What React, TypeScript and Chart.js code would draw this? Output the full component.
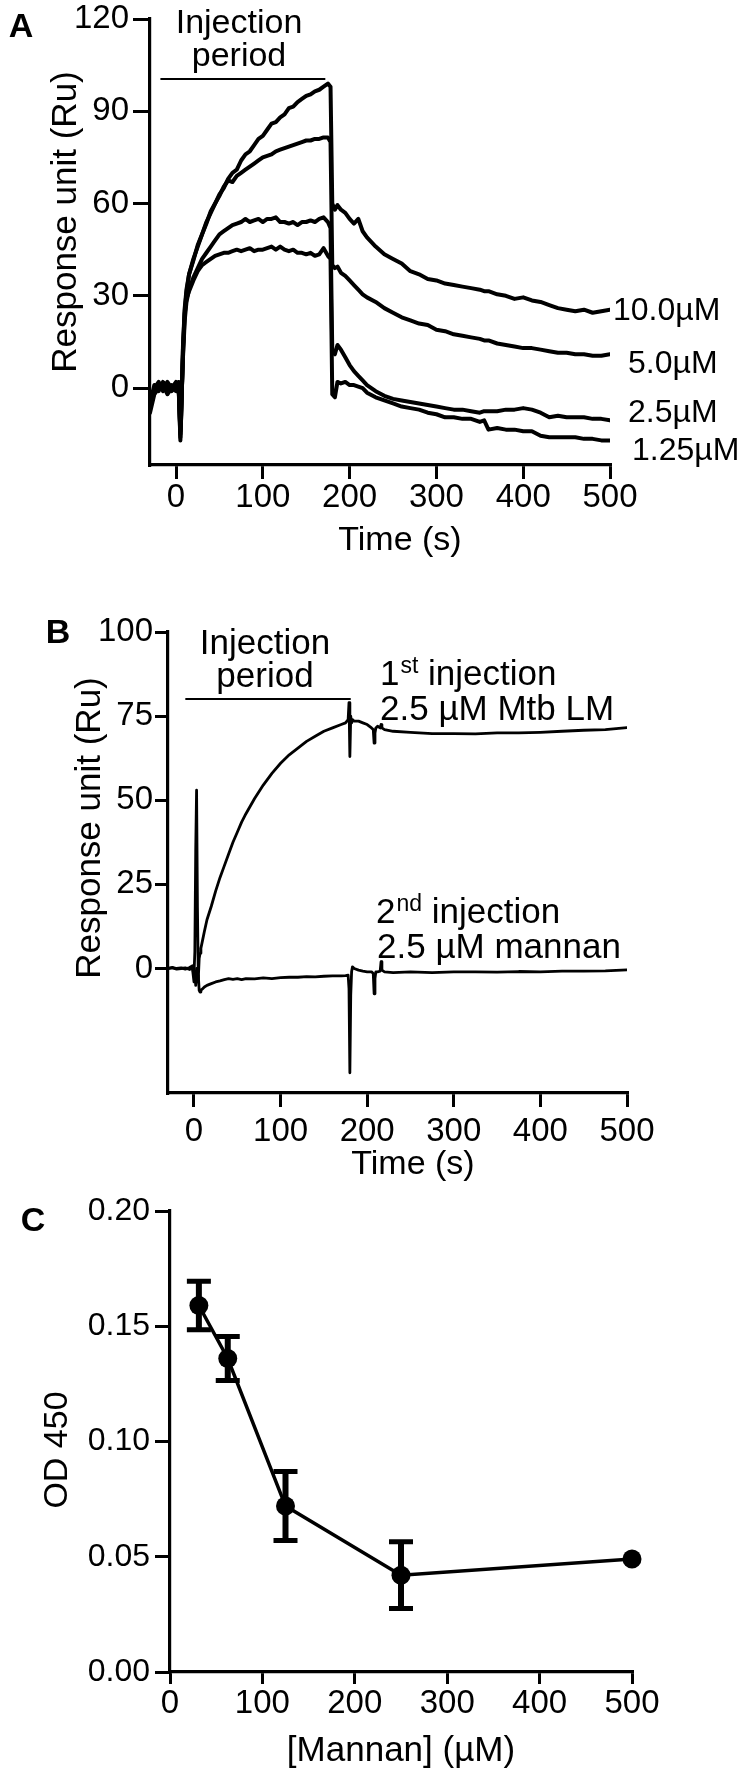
import React, { useEffect, useRef } from "react";
import { Chart, registerables } from "chart.js";

Chart.register(...registerables);

const FONT = '"Liberation Sans", Arial, Helvetica, sans-serif';
const MU = "\u00b5";

// ---------------- Panel A : SPR sensorgrams, four concentrations ----------------
const timeA = [
  -30, -25, -20, -15, -10, -5, 0, 3, 5, 6, 8, 10, 12, 15, 20, 25, 30, 35, 40, 45, 50, 55, 60, 65, 70, 75, 80, 85, 90,
  95, 100, 105, 110, 115, 120, 125, 130, 135, 140, 145, 150, 155, 160, 165, 170, 175, 178, 180, 183, 186, 190, 195,
  200, 205, 210, 215, 220, 230, 240, 250, 260, 270, 280, 290, 300, 310, 320, 330, 340, 350, 355, 360, 370, 380, 390,
  400, 410, 420, 430, 440, 450, 460, 470, 480, 490, 500,
];
const resp10uM = [
  -7, -1, 1, 0, 2, 0, 2, 1, -17, -8, 14, 26, 32, 37, 42, 46, 50, 54, 57, 60, 63, 65, 68, 70, 71, 74, 76, 77, 79, 81,
  82, 84, 86, 86.5, 88, 89, 91, 91.5, 93, 94, 95, 95.5, 96.5, 97, 98, 99, 98, 60, 58, 59.5, 58, 57, 55, 53.5, 55, 51,
  49, 46, 43.5, 42, 40.5, 38, 37, 35.5, 35, 34, 33.5, 33, 32.5, 32, 31.5, 31.5, 30.5, 30, 29, 29.5, 28.5, 28, 27, 26,
  25.5, 25, 25.5, 24.5, 25, 25.5,
];
const resp5uM = [
  -5, 1, -1, 2, -1, 1, 0, 2, -15, -9, 13, 25, 31, 37, 41.5, 46.5, 50, 53.5, 57.5, 60, 62.5, 65.5, 67.5, 67, 69, 70,
  71, 72, 73, 74, 75, 75.5, 76, 77, 77.5, 78, 78.5, 79, 79.5, 80, 80.5, 80.5, 81, 81, 81.5, 81.5, 80, 40, 39, 39.5,
  37.5, 36.5, 35, 33.5, 32, 30.5, 29.5, 28, 26, 24.5, 23, 22, 21, 20.5, 19, 18.5, 17.5, 17, 16.5, 16, 15.5, 15.5,
  14.5, 14, 13.5, 13, 13, 12.5, 12, 11.5, 11.5, 11, 11, 10.5, 10.5, 11,
];
const resp2_5uM = [
  -6, 0, 2, -1, 1, -1, 1, 0, -14, -6, 10, 22, 28, 32, 36, 39, 42, 44, 46, 48, 50, 51, 52, 53, 53.5, 54, 55, 54, 54.5,
  55, 54, 55, 55, 55.5, 54, 54, 53.5, 54, 53, 54, 54, 54.5, 54, 55, 55.5, 54, 52, 12, 11, 14, 12.5, 10, 7.5, 5.5, 4,
  2.5, 1, -1, -2.5, -3.5, -4, -4.5, -5, -5.5, -6, -6.5, -7, -7, -7.5, -8, -7.5, -7.5, -7.5, -7, -7, -6.5, -7, -8,
  -9.5, -9, -9.5, -9.5, -9.5, -10, -10, -10.5,
];
const resp1_25uM = [
  -8, -2, 0, 1, -2, 0, -1, 0, -16, -7, 11, 24, 29, 31.5, 35, 38, 40, 41, 42, 43, 43.5, 44, 44, 44.5, 45, 44.5, 45,
  45.5, 44.5, 45, 45, 45.5, 46, 45, 46, 45, 44.5, 45, 44, 44, 43.5, 44, 43, 43.5, 45.5, 43, 42, -2, -3, 2, 1.5, 2, 1,
  1, 0.5, 0, -1.5, -3, -4, -5, -6, -6.5, -7, -8, -8.5, -9.5, -9.5, -10, -10, -11, -10.5, -13.5, -13, -13.5, -13.5,
  -14, -14, -15.5, -16, -16, -16, -16, -16.5, -16.5, -17, -17,
];
const concLabelsA = ["10.0" + MU + "M", "5.0" + MU + "M", "2.5" + MU + "M", "1.25" + MU + "M"];
const xTicksA = [0, 100, 200, 300, 400, 500];
const yTicksA = [0, 30, 60, 90, 120];
const injectionA = [-18, 172]; // seconds covered by the "Injection period" bar

// ---------------- Panel B : two successive injections ----------------
const timeB = [
  -30, -25, -20, -15, -10, -5, -2, 0, 1, 2, 3, 4, 5, 6, 7, 8, 10, 12, 15, 20, 25, 30, 35, 40, 45, 50, 55, 60, 70, 80,
  90, 100, 110, 120, 130, 140, 150, 160, 170, 175, 178, 179, 180, 181, 182, 183, 185, 190, 195, 200, 205, 207, 208,
  209, 210, 212, 215, 216, 217, 220, 230, 250, 275, 300, 325, 350, 375, 400, 425, 450, 475, 500,
];
const firstInjectionLM = [
  0, 0.3, 0, 0.2, -0.2, 0.3, 0.8, -2, 5, 35, 53, 18, -3, 3, 4.5, 6, 8.5, 11, 14.5, 18.5, 23, 27, 30.5, 34, 37.5,
  40.5, 43.5, 46, 50.5, 54.5, 58, 61, 63.5, 65.5, 67.5, 69, 70.5, 71.5, 72.5, 73, 74, 79, 63, 75, 73, 74, 73.5, 73.5,
  73, 72.5, 71.5, 71, 67, 70, 71.5, 72, 71.5, 72.5, 71.5, 71, 70.5, 70.2, 69.8, 69.8, 69.7, 70, 70, 70.2, 70.5, 70.8,
  71, 71.6,
];
const secondInjectionMannan = [
  0, 0.2, -0.2, 0, 0.2, -0.3, 0.5, -4, -1, -5, 0, -4, -2, -6.5, -7, -6.5, -6, -5.5, -5, -4.5, -4, -3.7, -3.3, -3,
  -3.2, -3, -3.3, -3, -3.1, -2.8, -3, -2.7, -2.6, -2.6, -2.4, -2.5, -2.3, -2.2, -2.2, -2.1, -2, -6, -31, -8, -1, 0.5,
  0, -0.5, -0.8, -1, -1, -1.5, -7.5, -3, -1, -1, -0.8, 2, -0.5, -1, -1.2, -1, -1.2, -1, -1, -1.1, -0.9, -1, -0.8,
  -0.8, -0.7, -0.4,
];
const xTicksB = [0, 100, 200, 300, 400, 500];
const yTicksB = [0, 25, 50, 75, 100];
const injectionB = [-10, 181];

// ---------------- Panel C : ELISA inhibition by mannan ----------------
const mannanConc = [31.25, 62.5, 125, 250, 500];
const od450 = [0.159, 0.136, 0.072, 0.042, 0.049];
const od450Err = [0.0105, 0.0095, 0.015, 0.0145, 0];
const xTicksC = [0, 100, 200, 300, 400, 500];
const yTicksC = [0, 0.05, 0.1, 0.15, 0.2];

// ---------------- helpers ----------------
const toXY = (xs: number[], ys: number[]) => xs.map((x, i) => ({ x, y: ys[i] }));

type ScaleOpts = {
  axis: "x" | "y";
  min: number;
  max: number;
  ticks: number[];
  size: number;
  tickLength: number;
  pad: number;
  tickSize: number;
  fmt?: (v: number) => string;
};

function makeScale(o: ScaleOpts) {
  const isX = o.axis === "x";
  return {
    type: "linear",
    position: isX ? "bottom" : "left",
    min: o.min,
    max: o.max,
    afterBuildTicks: (s: any) => {
      s.ticks = o.ticks.map((v) => ({ value: v }));
    },
    afterFit: (s: any) => {
      if (isX) {
        s.height = o.size;
        s.paddingLeft = 0;
        s.paddingRight = 0;
      } else {
        s.width = o.size;
        s.paddingTop = 0;
        s.paddingBottom = 0;
      }
    },
    grid: {
      display: true,
      drawOnChartArea: false,
      drawTicks: true,
      tickLength: o.tickLength,
      lineWidth: 3,
      color: "#000",
    },
    border: { display: true, width: 3.2, color: "#000" },
    ticks: {
      autoSkip: false,
      maxRotation: 0,
      minRotation: 0,
      padding: o.pad,
      color: "#000",
      font: { family: FONT, size: o.tickSize, lineHeight: 1 },
      callback: (v: any) => (o.fmt ? o.fmt(Number(v)) : String(v)),
    },
    title: { display: false },
  };
}

function lineDs(xs: number[], ys: number[], width: number) {
  return {
    data: toXY(xs, ys),
    borderColor: "#000",
    backgroundColor: "#000",
    borderWidth: width,
    pointRadius: 0,
    fill: false,
    tension: 0,
    borderJoinStyle: "round",
    borderCapStyle: "round",
  };
}

function text(ctx: CanvasRenderingContext2D, s: string, x: number, y: number, size: number, align: CanvasTextAlign = "left", bold = false) {
  ctx.font = `${bold ? "bold " : ""}${size}px ${FONT}`;
  ctx.textAlign = align;
  ctx.textBaseline = "alphabetic";
  ctx.fillText(s, x, y);
}

function vText(ctx: CanvasRenderingContext2D, s: string, cx: number, cy: number, size: number) {
  ctx.save();
  ctx.translate(cx, cy);
  ctx.rotate(-Math.PI / 2);
  ctx.font = `${size}px ${FONT}`;
  ctx.textAlign = "center";
  ctx.textBaseline = "middle";
  ctx.fillText(s, 0, 0);
  ctx.restore();
}

function supText(ctx: CanvasRenderingContext2D, base: string, sup: string, rest: string, x: number, y: number, size: number) {
  ctx.textAlign = "left";
  ctx.textBaseline = "alphabetic";
  ctx.font = `${size}px ${FONT}`;
  ctx.fillText(base, x, y);
  let cx = x + ctx.measureText(base).width + 1;
  ctx.font = `${Math.round(size * 0.66)}px ${FONT}`;
  ctx.fillText(sup, cx, y - 12);
  cx += ctx.measureText(sup).width;
  ctx.font = `${size}px ${FONT}`;
  ctx.fillText(rest, cx, y);
}

function hBar(ctx: CanvasRenderingContext2D, chart: any, x0: number, x1: number, yPx: number) {
  const xs = chart.scales.x;
  ctx.lineWidth = 2;
  ctx.beginPath();
  ctx.moveTo(xs.getPixelForValue(x0), yPx);
  ctx.lineTo(xs.getPixelForValue(x1), yPx);
  ctx.stroke();
}

const annotA = {
  id: "annotA",
  afterDraw(chart: any) {
    const ctx: CanvasRenderingContext2D = chart.ctx;
    const right = chart.chartArea.right;
    ctx.save();
    ctx.fillStyle = "#000";
    ctx.strokeStyle = "#000";
    text(ctx, "A", 21, 37, 34, "center", true);
    hBar(ctx, chart, injectionA[0], injectionA[1], 79);
    text(ctx, "Injection", 239, 33, 34, "center");
    text(ctx, "period", 239, 66, 34, "center");
    const offs = [3, 18, 18, 22];
    const bases = [320, 373, 422, 460];
    concLabelsA.forEach((s, i) => text(ctx, s, right + offs[i], bases[i], 32));
    vText(ctx, "Response unit (Ru)", 66, 222, 35);
    text(ctx, "Time (s)", 400, 550, 34, "center");
    ctx.restore();
  },
};

const annotB = {
  id: "annotB",
  afterDraw(chart: any) {
    const ctx: CanvasRenderingContext2D = chart.ctx;
    ctx.save();
    ctx.fillStyle = "#000";
    ctx.strokeStyle = "#000";
    text(ctx, "B", 58, 78, 34, "center", true);
    hBar(ctx, chart, injectionB[0], injectionB[1], 134);
    text(ctx, "Injection", 265, 89, 35, "center");
    text(ctx, "period", 265, 122, 35, "center");
    supText(ctx, "1", "st", " injection", 380, 120, 35);
    text(ctx, "2.5 " + MU + "M Mtb LM", 380, 155, 35);
    supText(ctx, "2", "nd", " injection", 376, 358, 35);
    text(ctx, "2.5 " + MU + "M mannan", 377, 393, 35);
    vText(ctx, "Response unit (Ru)", 90, 263, 35);
    text(ctx, "Time (s)", 413, 609, 34, "center");
    ctx.restore();
  },
};

const annotC = {
  id: "annotC",
  afterDatasetsDraw(chart: any) {
    const ctx: CanvasRenderingContext2D = chart.ctx;
    const xs = chart.scales.x;
    const ys = chart.scales.y;
    ctx.save();
    ctx.strokeStyle = "#000";
    ctx.lineCap = "butt";
    mannanConc.forEach((c, i) => {
      const e = od450Err[i];
      if (!e) return;
      const px = xs.getPixelForValue(c);
      const top = ys.getPixelForValue(od450[i] + e);
      const bot = ys.getPixelForValue(od450[i] - e);
      ctx.lineWidth = 6;
      ctx.beginPath();
      ctx.moveTo(px, top);
      ctx.lineTo(px, bot);
      ctx.stroke();
      ctx.lineWidth = 5;
      ctx.beginPath();
      ctx.moveTo(px - 12, top);
      ctx.lineTo(px + 12, top);
      ctx.moveTo(px - 12, bot);
      ctx.lineTo(px + 12, bot);
      ctx.stroke();
    });
    ctx.restore();
  },
  afterDraw(chart: any) {
    const ctx: CanvasRenderingContext2D = chart.ctx;
    ctx.save();
    ctx.fillStyle = "#000";
    text(ctx, "C", 33, 46, 34, "center", true);
    vText(ctx, "OD 450", 58, 265, 34);
    text(ctx, "[Mannan] (" + MU + "M)", 401, 576, 35, "center");
    ctx.restore();
  },
};

const baseOptions = {
  responsive: false,
  maintainAspectRatio: false,
  animation: false,
  devicePixelRatio: 1,
  events: [],
  plugins: { legend: { display: false }, tooltip: { enabled: false } },
};

function configA(): any {
  return {
    type: "line",
    data: {
      datasets: [
        lineDs(timeA, resp10uM, 4),
        lineDs(timeA, resp5uM, 4),
        lineDs(timeA, resp2_5uM, 4),
        lineDs(timeA, resp1_25uM, 4),
      ],
    },
    options: {
      ...baseOptions,
      layout: { padding: { left: 40, top: 19, right: 139, bottom: 40 }, autoPadding: false },
      scales: {
        x: makeScale({ axis: "x", min: -30, max: 500, ticks: xTicksA, size: 60, tickLength: 14, pad: 2, tickSize: 33 }),
        y: makeScale({ axis: "y", min: -25, max: 120, ticks: yTicksA, size: 110, tickLength: 17, pad: 4, tickSize: 33 }),
      },
    },
    plugins: [annotA],
  };
}

function configB(): any {
  return {
    type: "line",
    data: {
      datasets: [lineDs(timeB, firstInjectionLM, 2.8), lineDs(timeB, secondInjectionMannan, 2.8)],
    },
    options: {
      ...baseOptions,
      layout: { padding: { left: 60, top: 67, right: 122, bottom: 32 }, autoPadding: false },
      scales: {
        x: makeScale({ axis: "x", min: -30, max: 500, ticks: xTicksB, size: 60, tickLength: 14, pad: 8, tickSize: 33 }),
        y: makeScale({ axis: "y", min: -37, max: 100, ticks: yTicksB, size: 108, tickLength: 13, pad: 2, tickSize: 33 }),
      },
    },
    plugins: [annotB],
  };
}

function configC(): any {
  return {
    type: "line",
    data: {
      datasets: [
        {
          data: toXY(mannanConc, od450),
          borderColor: "#000",
          backgroundColor: "#000",
          borderWidth: 3.5,
          pointRadius: 9.5,
          pointBorderWidth: 0,
          pointBackgroundColor: "#000",
          fill: false,
          tension: 0,
          clip: false,
        },
      ],
    },
    options: {
      ...baseOptions,
      layout: { padding: { left: 30, top: 26, right: 117, bottom: 45 }, autoPadding: false },
      scales: {
        x: makeScale({ axis: "x", min: 0, max: 500, ticks: xTicksC, size: 60, tickLength: 12, pad: 3, tickSize: 33 }),
        y: makeScale({
          axis: "y",
          min: 0,
          max: 0.2,
          ticks: yTicksC,
          size: 140,
          tickLength: 15,
          pad: 5,
          tickSize: 32,
          fmt: (v) => v.toFixed(2),
        }),
      },
    },
    plugins: [annotC],
  };
}

export default function App() {
  const refA = useRef<HTMLCanvasElement>(null);
  const refB = useRef<HTMLCanvasElement>(null);
  const refC = useRef<HTMLCanvasElement>(null);

  useEffect(() => {
    const charts: Chart[] = [];
    if (refA.current) charts.push(new Chart(refA.current, configA()));
    if (refB.current) charts.push(new Chart(refB.current, configB()));
    if (refC.current) charts.push(new Chart(refC.current, configC()));
    return () => charts.forEach((c) => c.destroy());
  }, []);

  const cv = (top: number, h: number): React.CSSProperties => ({
    position: "absolute",
    left: 0,
    top,
    width: 749,
    height: h,
  });

  return (
    <div style={{ position: "absolute", left: 0, top: 0, width: 749, height: 1777, background: "#fff" }}>
      <canvas ref={refA} width={749} height={565} style={cv(0, 565)} />
      <canvas ref={refB} width={749} height={620} style={cv(565, 620)} />
      <canvas ref={refC} width={749} height={592} style={cv(1185, 592)} />
    </div>
  );
}
